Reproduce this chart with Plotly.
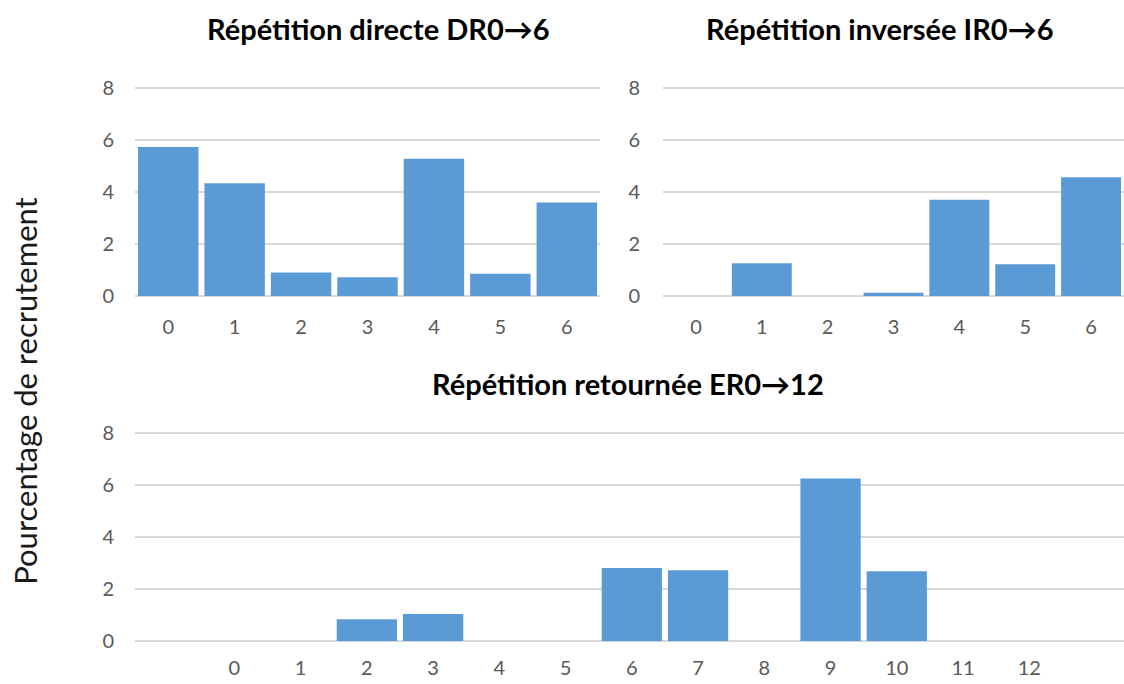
import plotly.graph_objects as go

W, H = 1124, 696
OFF, SC = 12, 0.965  # observed mapping between page pixels and picture pixels (vertical)

# Data
dr_categories = [0, 1, 2, 3, 4, 5, 6]
dr_values = [5.73, 4.34, 0.91, 0.72, 5.28, 0.86, 3.60]

ir_categories = [0, 1, 2, 3, 4, 5, 6]
ir_values = [0, 1.26, 0, 0.13, 3.70, 1.22, 4.57]

er_categories = [0, 1, 2, 3, 4, 5, 6, 7, 8, 9, 10, 11, 12]
er_values = [0, 0, 0.85, 1.05, 0, 0, 2.82, 2.73, 0, 6.26, 2.69, 0, 0]

y_ticks = [0, 2, 4, 6, 8]

titles = ["Répétition directe DR0→6", "Répétition inversée IR0→6", "Répétition retournée ER0→12"]
y_title = "Pourcentage de recrutement"

BAR = "#5B9BD5"
GRID = "#D9D9D9"
TICK = "#595959"
FONT = "Lato"

def px_x(p):
    return p / W

def px_y(p):
    return 1 - ((p - OFF) / SC) / H

fig = go.Figure()
fig.add_trace(go.Bar(x=dr_categories, y=dr_values, marker=dict(color=BAR, line=dict(width=0)),
                     xaxis="x", yaxis="y", showlegend=False))
fig.add_trace(go.Bar(x=ir_categories, y=ir_values, marker=dict(color=BAR, line=dict(width=0)),
                     xaxis="x2", yaxis="y2", showlegend=False))
fig.add_trace(go.Bar(x=er_categories, y=er_values, marker=dict(color=BAR, line=dict(width=0)),
                     xaxis="x3", yaxis="y3", showlegend=False))

tickfont = dict(family=FONT, size=20, color=TICK)

def xaxis(domain, cats, rng, anchor, standoff):
    return dict(domain=domain, anchor=anchor, range=rng, tickmode="array",
                tickvals=cats, ticktext=[str(c) for c in cats], showgrid=False,
                zeroline=False, showline=False, ticks="", tickfont=tickfont,
                ticklabelstandoff=standoff, fixedrange=True)

def yaxis(domain, anchor, standoff):
    return dict(domain=domain, anchor=anchor, range=[0, 8.05], tickmode="array",
                tickvals=y_ticks, showgrid=True, gridcolor=GRID, gridwidth=2,
                zeroline=True, zerolinecolor=GRID, zerolinewidth=2, showline=False,
                ticks="", tickfont=tickfont, ticklabelstandoff=standoff, fixedrange=True)

top_dom = [px_y(295.5), px_y(86.5)]
bot_dom = [px_y(640), px_y(431)]

fig.update_layout(
    width=W, height=H,
    margin=dict(l=0, r=0, t=0, b=0),
    paper_bgcolor="white", plot_bgcolor="white",
    bargap=0.09,
    xaxis=xaxis([px_x(135), px_x(600)], dr_categories, [-0.5, 6.5], "y", 17),
    yaxis=yaxis(top_dom, "x", 20),
    xaxis2=xaxis([px_x(663), px_x(1124)], ir_categories, [-0.5, 6.5], "y2", 17),
    yaxis2=yaxis(top_dom, "x2", 22),
    xaxis3=xaxis([px_x(135), px_x(1124)], er_categories, [-1.5, 13.43], "y3", 13),
    yaxis3=yaxis(bot_dom, "x3", 20),
)

title_pos = [(378, 28), (880, 28), (628, 383)]
for t, (cx, cy) in zip(titles, title_pos):
    fig.add_annotation(text="<b>%s</b>" % t, x=px_x(cx), y=px_y(cy), xref="paper", yref="paper",
                       xanchor="center", yanchor="middle", showarrow=False,
                       font=dict(family=FONT, size=29, color="#000000"))

fig.add_annotation(text=y_title, x=px_x(25), y=px_y(390), xref="paper", yref="paper",
                   xanchor="center", yanchor="middle", textangle=-90, showarrow=False,
                   font=dict(family=FONT, size=31, color="#1a1a1a"))

fig.write_html("out.html", config={"displayModeBar": False},
               post_script="document.body.style.margin='0px';document.body.style.overflow='hidden';")
